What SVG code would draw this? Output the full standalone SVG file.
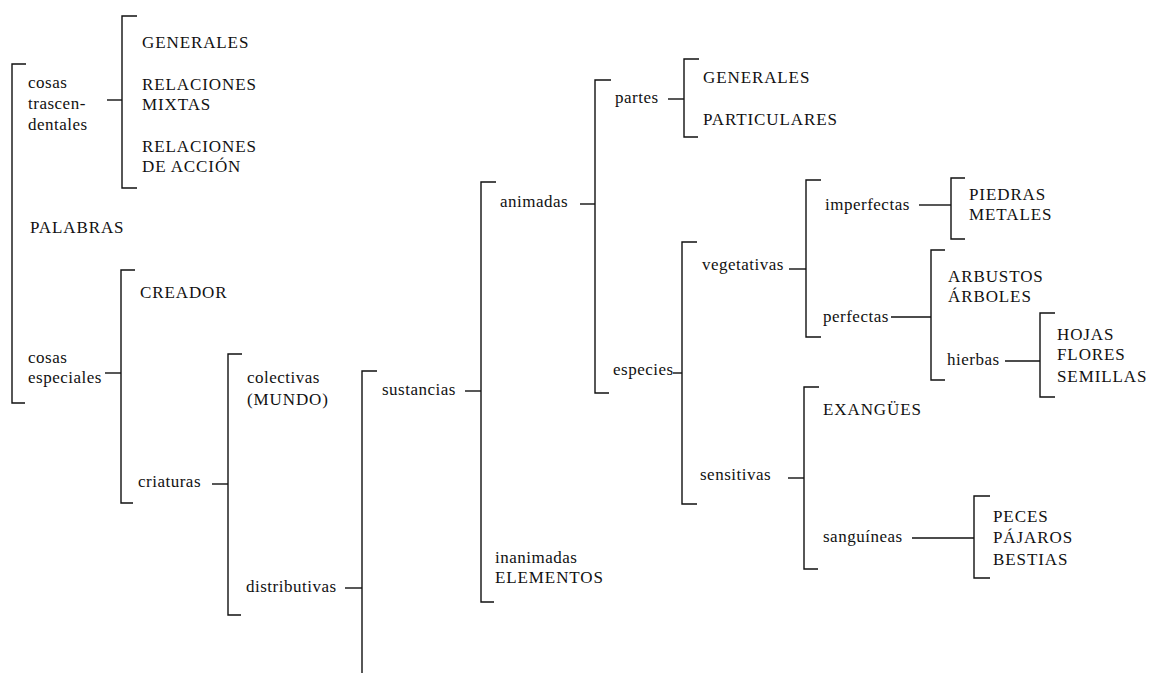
<svg xmlns="http://www.w3.org/2000/svg" width="1149" height="674" viewBox="0 0 1149 674">
<style>
text{font-family:"Liberation Serif","Times New Roman",serif;font-size:17px;fill:#111}
.lc{letter-spacing:0.5px}
.uc{letter-spacing:0.9px}
.br,.cn{fill:none;stroke:#111;stroke-width:1.4}
</style>
<rect width="1149" height="674" fill="#fff"/>
<g id="connectors">
<path class="cn" d="M107 100H122"/>
<path class="cn" d="M105 373H121"/>
<path class="cn" d="M212 484H228"/>
<path class="cn" d="M345 588H362"/>
<path class="cn" d="M465 391H481"/>
<path class="cn" d="M580 204H595"/>
<path class="cn" d="M668 99H684"/>
<path class="cn" d="M673 373H682"/>
<path class="cn" d="M789 269H806"/>
<path class="cn" d="M788 478H804"/>
<path class="cn" d="M919 205H951"/>
<path class="cn" d="M891 317H931"/>
<path class="cn" d="M1005 361H1040"/>
<path class="cn" d="M912 538H974"/>
</g>
<g id="palabras">
<path class="br" d="M26 64H12V403H25"/>
<text class="uc" x="30" y="233">PALABRAS</text>
</g>
<g id="cosas-trascendentales">
<path class="br" d="M137 16H122V188H137"/>
<text class="lc" x="28" y="88">cosas</text>
<text class="lc" x="28" y="109">trascen-</text>
<text class="lc" x="28" y="130">dentales</text>
</g>
<g id="generales-1"><text class="uc" x="142" y="48">GENERALES</text></g>
<g id="relaciones-mixtas"><text class="uc" x="142" y="90">RELACIONES</text><text class="uc" x="142" y="110">MIXTAS</text></g>
<g id="relaciones-accion"><text class="uc" x="142" y="152">RELACIONES</text><text class="uc" x="142" y="172">DE ACCIÓN</text></g>
<g id="cosas-especiales">
<path class="br" d="M135 270H121V503H133"/>
<text class="lc" x="28" y="363">cosas</text>
<text class="lc" x="28" y="383">especiales</text>
</g>
<g id="creador"><text class="uc" x="140" y="298">CREADOR</text></g>
<g id="criaturas">
<path class="br" d="M242 354H228V615H241"/>
<text class="lc" x="138" y="487">criaturas</text>
</g>
<g id="colectivas"><text class="lc" x="247" y="383">colectivas</text><text class="uc" x="247" y="405">(MUNDO)</text></g>
<g id="distributivas">
<path class="br" d="M377 371H362V673"/>
<text class="lc" x="246" y="592">distributivas</text>
</g>
<g id="sustancias">
<path class="br" d="M496 182H481V602H494"/>
<text class="lc" x="382" y="395">sustancias</text>
</g>
<g id="inanimadas"><text class="lc" x="495" y="563">inanimadas</text><text class="uc" x="495" y="583">ELEMENTOS</text></g>
<g id="animadas">
<path class="br" d="M611 80H595V393H609"/>
<text class="lc" x="500" y="207">animadas</text>
</g>
<g id="partes">
<path class="br" d="M699 59H684V137H698"/>
<text class="lc" x="615" y="103">partes</text>
</g>
<g id="generales-2"><text class="uc" x="703" y="83">GENERALES</text></g>
<g id="particulares"><text class="uc" x="703" y="125">PARTICULARES</text></g>
<g id="especies">
<path class="br" d="M697 242H682V504H697"/>
<text class="lc" x="613" y="375">especies</text>
</g>
<g id="vegetativas">
<path class="br" d="M821 180H806V337H821"/>
<text class="lc" x="702" y="270">vegetativas</text>
</g>
<g id="imperfectas">
<path class="br" d="M965 178H951V239H965"/>
<text class="lc" x="825" y="210">imperfectas</text>
</g>
<g id="piedras-metales"><text class="uc" x="969" y="200">PIEDRAS</text><text class="uc" x="969" y="220">METALES</text></g>
<g id="perfectas">
<path class="br" d="M945 250H931V380H945"/>
<text class="lc" x="823" y="322">perfectas</text>
</g>
<g id="arbustos-arboles"><text class="uc" x="948" y="282">ARBUSTOS</text><text class="uc" x="948" y="302">ÁRBOLES</text></g>
<g id="hierbas">
<path class="br" d="M1055 313H1040V397H1055"/>
<text class="lc" x="947" y="365">hierbas</text>
</g>
<g id="hojas-flores-semillas"><text class="uc" x="1057" y="340">HOJAS</text><text class="uc" x="1057" y="360">FLORES</text><text class="uc" x="1057" y="382">SEMILLAS</text></g>
<g id="sensitivas">
<path class="br" d="M819 387H804V569H818"/>
<text class="lc" x="700" y="480">sensitivas</text>
</g>
<g id="exangues"><text class="uc" x="823" y="415">EXANGÜES</text></g>
<g id="sanguineas">
<path class="br" d="M990 496H974V578H990"/>
<text class="lc" x="823" y="542">sanguíneas</text>
</g>
<g id="peces-pajaros-bestias"><text class="uc" x="993" y="522">PECES</text><text class="uc" x="993" y="543">PÁJAROS</text><text class="uc" x="993" y="565">BESTIAS</text></g>
</svg>
